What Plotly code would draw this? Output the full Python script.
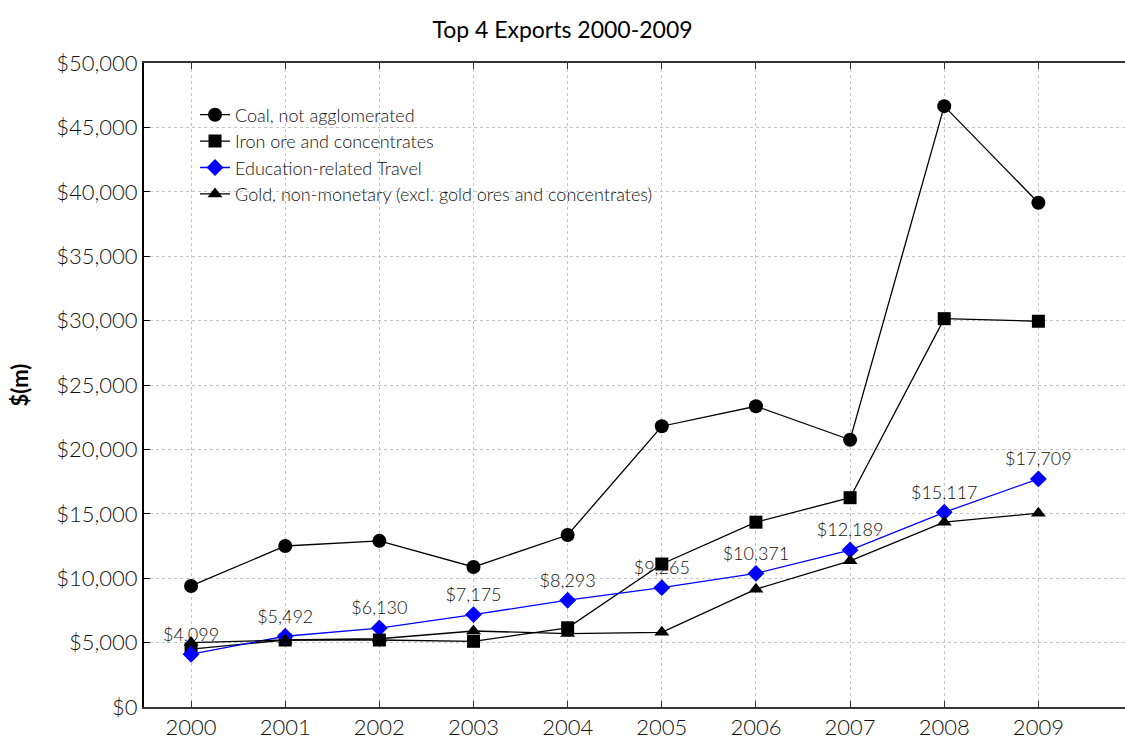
import plotly.graph_objects as go

years = [2000, 2001, 2002, 2003, 2004, 2005, 2006, 2007, 2008, 2009]
coal = [9400, 12500, 12900, 10870, 13350, 21800, 23350, 20750, 46650, 39150]
iron = [4500, 5200, 5200, 5100, 6150, 11100, 14350, 16250, 30150, 29950]
education = [4099, 5492, 6130, 7175, 8293, 9265, 10371, 12189, 15117, 17709]
gold = [5000, 5200, 5300, 5900, 5700, 5800, 9150, 11350, 14350, 15050]
edu_labels = ["${:,}".format(v) for v in education]

FONT = "Lato"
W = 300

fig = go.Figure()
fig.add_trace(go.Scatter(x=years, y=coal, mode="lines+markers", name="Coal, not agglomerated",
                         line=dict(color="black", width=1.3),
                         marker=dict(symbol="circle", size=14, color="black")))
fig.add_trace(go.Scatter(x=years, y=iron, mode="lines+markers", name="Iron ore and concentrates",
                         line=dict(color="black", width=1.3),
                         marker=dict(symbol="square", size=13, color="black")))
fig.add_trace(go.Scatter(x=years, y=education, mode="lines+markers+text", name="Education-related Travel",
                         line=dict(color="#0000ff", width=1.3),
                         marker=dict(symbol="diamond", size=13, color="#0000ff"),
                         text=edu_labels, textposition="top center",
                         textfont=dict(family=FONT, size=18, color="#111111", weight=W)))
fig.add_trace(go.Scatter(x=years, y=gold, mode="lines+markers", name="Gold, non-monetary (excl. gold ores and concentrates)",
                         line=dict(color="black", width=1.3),
                         marker=dict(symbol="triangle-up", size=13, color="black")))

fig.update_layout(
    width=1125, height=745,
    margin=dict(l=144, r=0, t=63, b=38),
    paper_bgcolor="white", plot_bgcolor="white",
    font=dict(family=FONT, color="black", weight=W),
    title=dict(text="Top 4 Exports 2000-2009", x=0.5, xanchor="center", y=0.96, yanchor="middle",
               font=dict(family=FONT, size=23, color="black", weight=400)),
    showlegend=True,
    legend=dict(x=0.052, y=0.948, xanchor="left", yanchor="top",
                bgcolor="rgba(0,0,0,0)", font=dict(family=FONT, size=18, color="#111111", weight=W),
                tracegroupgap=0, itemsizing="trace"),
    xaxis=dict(range=[1999.5, 2009.92], tickmode="array", tickvals=years,
               ticktext=[str(y) for y in years],
               showgrid=True, gridcolor="#c4c4c4", griddash="dot", gridwidth=1,
               showline=True, linecolor="#333333", linewidth=2, mirror="ticks",
               ticks="inside", ticklen=6, tickcolor="#333333",
               tickfont=dict(family=FONT, size=22, color="#111111", weight=W), zeroline=False),
    yaxis=dict(range=[0, 50000], tickmode="array",
               tickvals=list(range(0, 50001, 5000)),
               ticktext=["${:,}".format(v) for v in range(0, 50001, 5000)],
               showgrid=True, gridcolor="#c4c4c4", griddash="dot", gridwidth=1,
               showline=True, linecolor="black", linewidth=2,
               ticks="inside", ticklen=6, tickcolor="black",
               tickfont=dict(family=FONT, size=22, color="#111111", weight=W), zeroline=False,
               title=dict(text="<b>$(m)</b>", font=dict(family=FONT, size=22, color="black"), standoff=22)),
)

fig.write_html("out.html")
